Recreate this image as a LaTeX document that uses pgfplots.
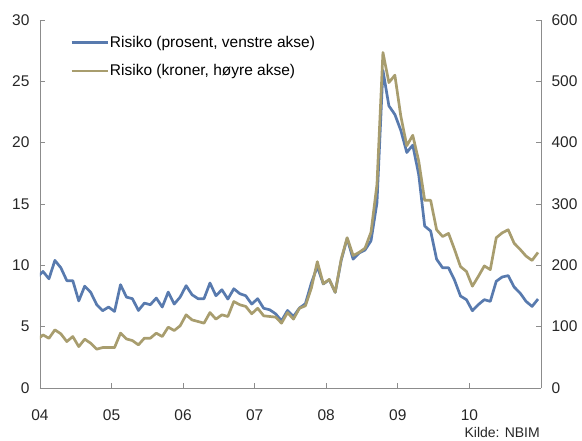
\documentclass[border=0pt]{standalone}
\usepackage{fontspec}
\setmainfont{Liberation Sans}
\usepackage{pgfplots}
\usepackage{pgfplotstable}
\pgfplotsset{compat=1.18}

\definecolor{riskblue}{RGB}{88,122,174}
\definecolor{riskolive}{RGB}{168,157,110}
\definecolor{axisgray}{RGB}{140,140,140}

% i = month index from Jan 2004 (plotted mid-month), pct = left axis, nok = right axis
\pgfplotstableread{
i pct nok
-1 9.0 78
0 9.5 86.6
1 8.9 81
2 10.4 94.8
3 9.8 88.3
4 8.75 75.7
5 8.75 83.9
6 7.1 67.5
7 8.3 79.6
8 7.8 73
9 6.8 63.3
10 6.3 65.9
11 6.6 65.9
12 6.24 65.9
13 8.42 89.4
14 7.41 80
15 7.28 77.3
16 6.32 70.3
17 6.92 81.2
18 6.79 81.2
19 7.33 89.4
20 6.6 83.9
21 7.82 99.2
22 6.84 93.7
23 7.41 101.4
24 8.34 119.3
25 7.6 111
26 7.28 108.4
27 7.28 105.7
28 8.56 123
29 7.52 112.3
30 8.01 119.3
31 7.25 116.6
32 8.09 141
33 7.69 135.7
34 7.52 133
35 6.84 121
36 7.28 130
37 6.5 117.7
38 6.38 116.6
39 6.05 115.6
40 5.48 105.7
41 6.32 123
42 5.83 112.3
43 6.52 130
44 6.87 134
45 8.56 163
46 9.9 206
47 8.48 170
48 8.83 177
49 7.8 156
50 10.4 210
51 12.2 245
52 10.5 216
53 11.0 221
54 11.25 228
55 12.0 254
56 15.1 332
57 25.9 547
58 23.0 498
59 22.3 510
60 21.0 443
61 19.2 395
62 19.8 412
63 17.4 370
64 13.2 306
65 12.8 306
66 10.5 258
67 9.8 247
68 9.8 252
69 8.8 226
70 7.5 198
71 7.2 190
72 6.3 166
73 6.8 182
74 7.2 199
75 7.06 193
76 8.7 245
77 9.05 253
78 9.16 258
79 8.23 236
80 7.74 226
81 7.06 215
82 6.65 208
83 7.25 221
}\risk

\begin{document}
\begin{tikzpicture}
\path[use as bounding box] (0,0) rectangle (582pt,441pt);
\pgfplotsset{
  chartbase/.style={
    scale only axis, width=501pt, height=368pt,
    at={(40pt,53pt)}, anchor=south west,
    xmin=2004, xmax=2011,
    tick align=inside, major tick length=5pt,
    tick style={draw=axisgray, line width=0.8pt},
    axis line style={draw=axisgray, line width=0.8pt},
    every tick label/.append style={font=\fontsize{15.5}{18}\selectfont, text=black!85},
    /pgf/number format/assume math mode=true,
  },
}
\begin{axis}[chartbase,
  axis x line*=bottom, axis y line*=left,
  ymin=0, ymax=30, ytick={0,5,...,30},
  xtick={2004,...,2010}, xticklabels={04,05,06,07,08,09,10},
  yticklabel style={xshift=-7pt},
  xticklabel style={yshift=-18pt},
  legend cell align=left,
  legend image code/.code={\draw[#1] (0pt,0pt) -- (36pt,0pt);},
  legend style={draw=none, fill=none, at={(0.06,0.96)}, anchor=north west,
    inner sep=0pt, row sep=14pt, font=\fontsize{15.5}{18}\selectfont,
    nodes={inner sep=1pt},
    /tikz/every even column/.append style={column sep=0pt}},
]
\addplot[riskblue, line width=2.7pt, line join=round] table[x expr=2004+(\thisrow{i}+0.5)/12, y=pct] {\risk};
\addlegendentry{Risiko (prosent, venstre akse)}
\addlegendimage{riskolive, line width=2.7pt}
\addlegendentry{Risiko (kroner, høyre akse)}
\end{axis}
\begin{axis}[chartbase,
  axis x line=none, axis y line*=right,
  ymin=0, ymax=600, ytick={0,100,...,600},
  yticklabel style={xshift=7pt},
]
\addplot[riskolive, line width=2.7pt, line join=round] table[x expr=2004+(\thisrow{i}+0.5)/12, y=nok] {\risk};
\end{axis}
\node[anchor=south east, font=\fontsize{14}{16}\selectfont, text=black!85, inner sep=0pt] at (540pt,3pt) {Kilde: NBIM};
\end{tikzpicture}
\end{document}
